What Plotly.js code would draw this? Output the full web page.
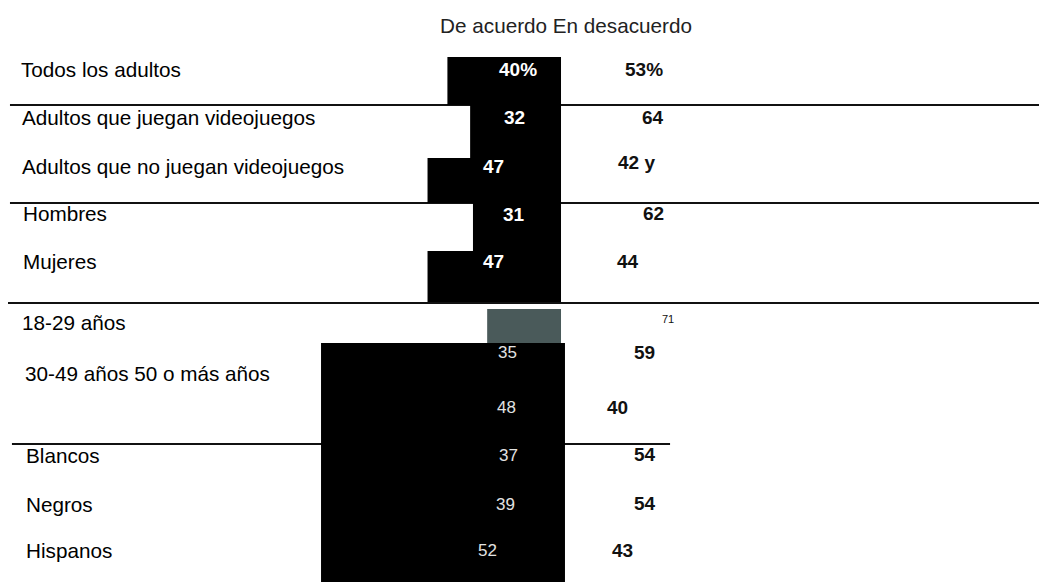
<!DOCTYPE html>
<html><head><meta charset="utf-8">
<script src="https://cdn.plot.ly/plotly-3.0.1.min.js"></script>
<style>html,body{margin:0;padding:0;background:#fff}#chart{width:1039px;height:582px}</style>
</head><body><div id="chart"></div>
<script>
// ---- data ----
const categories = ['Todos los adultos','Adultos que juegan videojuegos','Adultos que no juegan videojuegos','Hombres','Mujeres','18-29 años','30-49 años','50 o más años','Blancos','Negros','Hispanos'];
const agree = [40, 32, 47, 31, 47, 26, 35, 48, 37, 39, 52];
const disagree = [53, 64, 42, 62, 44, 71, 59, 40, 54, 54, 43];
const agreeLabels = ['40%','32','47','31','47','','35','48','37','39','52'];
const disagreeLabels = ['53%','64','42 y','62','44','71','59','40','54','54','43'];
const rowLabels = ['Todos los adultos','Adultos que juegan videojuegos','Adultos que no juegan videojuegos','Hombres','Mujeres','18-29 años','30-49 años 50 o más años','','Blancos','Negros','Hispanos'];
const titleText = 'De acuerdo En desacuerdo';

// ---- styles / layout tweaks ----
const FONT = 'Liberation Sans, Arial, Helvetica, sans-serif';
const barOffset = [-0.249,-0.252,-0.150,-0.214,-0.216,-0.01,-0.3,-0.3,-0.3,-0.3,-0.3];
const barWidth  = [0.998,1.10,0.936,0.998,1.06,0.707,0.6,0.6,0.6,0.6,0.6];
const barColor  = ['#000','#000','#000','#000','#000','#4a5a5a','#000','#000','#000','#000','#000'];
const labelXShift = [-3,-2,-2,-1,-1,-2,1,0,2,2,2];
const labelYShift = [0,0,-1,0,0,-13,-16,0,-2,-3,0];
const agreeXShift = [14,-1,-1,-3,-1,0,-4,14,0,0,0];
const agreeYShift = [0,0,-1,-1,0,0,5,-2,-2,-3,0];
const disXShift = [8,1,16,4,5,6,0,0,7,7,0];
const disYShift = [0,0,3,0,0,-9,5,-2,-1,-2,0];
const agreeBold = [true,true,true,true,true,false,false,false,false,false,false];
const disBold = [true,true,true,true,true,false,true,true,true,true,true];

const traces = [
  {type:'bar', orientation:'h', y:categories, x:agree.map(v=>-v), base:0,
   offset:barOffset, width:barWidth, marker:{color:barColor, line:{width:0}},
   hoverinfo:'skip'},
  {type:'bar', orientation:'h', y:categories, x:disagree, base:0,
   offset:barOffset, width:barWidth, marker:{color:'rgba(0,0,0,0)', line:{width:0}},
   hoverinfo:'skip'}
];

const annotations = [];
categories.forEach((c,i)=>{
  if (rowLabels[i]) annotations.push({xref:'paper', x:0.0212, xanchor:'left', yref:'y', y:c,
    text:rowLabels[i], showarrow:false, xshift:labelXShift[i], yshift:labelYShift[i],
    font:{family:FONT, size:20.7, color:'#000'}});
  if (agreeLabels[i]) annotations.push({xref:'x', x:-agree[i]/2, yref:'y', y:c,
    text: agreeBold[i] ? '<b>'+agreeLabels[i]+'</b>' : agreeLabels[i], showarrow:false,
    xshift:agreeXShift[i], yshift:agreeYShift[i],
    font:{family:FONT, size: agreeBold[i]?19:17, color: agreeBold[i]?'#fff':'#e2e2e2'}});
  annotations.push({xref:'x', x:disagree[i]/2, yref:'y', y:c,
    text: disBold[i] ? '<b>'+disagreeLabels[i]+'</b>' : disagreeLabels[i], showarrow:false,
    xshift:disXShift[i], yshift:disYShift[i],
    font:{family:FONT, size: disBold[i]?19:11, color:'#111'}});
});

const lineStyle = {color:'#111', width:2};
const shapes = [
  {type:'rect', xref:'x', yref:'paper', x0:-84.5, x1:1.4, y0:0, y1:0.4107, fillcolor:'#000', line:{width:0}, layer:'above'},
  {type:'line', xref:'paper', yref:'paper', x0:0.0096, x1:1, y0:0.8196, y1:0.8196, line:lineStyle, layer:'below'},
  {type:'line', xref:'paper', yref:'paper', x0:0.0096, x1:1, y0:0.6512, y1:0.6512, line:lineStyle, layer:'below'},
  {type:'line', xref:'paper', yref:'paper', x0:0.0077, x1:1, y0:0.4794, y1:0.4794, line:lineStyle, layer:'below'},
  {type:'line', xref:'paper', yref:'paper', x0:0.0115, x1:0.6449, y0:0.2371, y1:0.2371, line:lineStyle, layer:'below'}
];

const layout = {
  width:1039, height:582, margin:{l:0,r:0,t:0,b:0},
  paper_bgcolor:'#fff', plot_bgcolor:'#fff', showlegend:false, barmode:'overlay',
  title:{text:titleText, x:0.5448, xanchor:'center', y:0.9553, yanchor:'middle', font:{family:FONT, size:20.7, color:'#222'}},
  xaxis:{range:[-197.54,168.31], visible:false, fixedrange:true},
  yaxis:{type:'category', categoryorder:'array', categoryarray:categories, range:[10.665,-1.4345],
         visible:false, fixedrange:true},
  annotations:annotations, shapes:shapes
};
Plotly.newPlot('chart', traces, layout, {displayModeBar:false, staticPlot:true});
</script></body></html>
